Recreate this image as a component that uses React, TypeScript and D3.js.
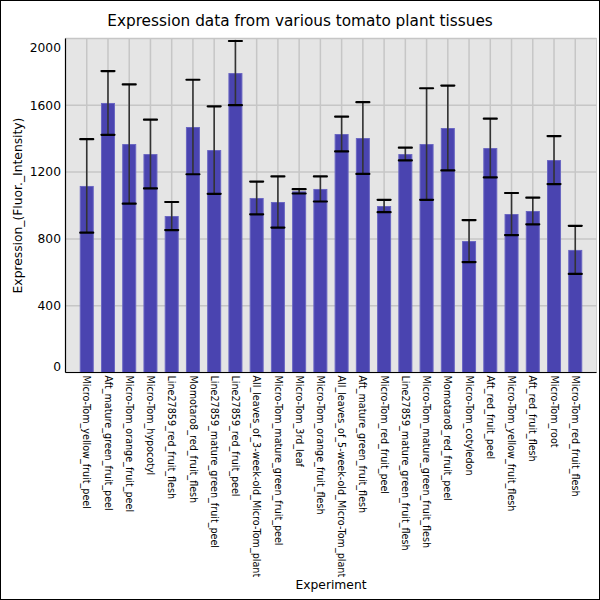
import React from "react";
import * as d3 from "d3";

const categories = [
  "Micro-Tom_yellow_fruit_peel",
  "Aft_mature_green_fruit_peel",
  "Micro-Tom_orange_fruit_peel",
  "Micro-Tom_hypocotyl",
  "Line27859_red_fruit_flesh",
  "Momotaro8_red_fruit_flesh",
  "Line27859_mature_green_fruit_peel",
  "Line27859_red_fruit_peel",
  "All_leaves_of_3-week-old_Micro-Tom_plant",
  "Micro-Tom_mature_green_fruit_peel",
  "Micro-Tom_3rd_leaf",
  "Micro-Tom_orange_fruit_flesh",
  "All_leaves_of_5-week-old_Micro-Tom_plant",
  "Aft_mature_green_fruit_flesh",
  "Micro-Tom_red_fruit_peel",
  "Line27859_mature_green_fruit_flesh",
  "Micro-Tom_mature_green_fruit_flesh",
  "Momotaro8_red_fruit_peel",
  "Micro-Tom_cotyledon",
  "Aft_red_fruit_peel",
  "Micro-Tom_yellow_fruit_flesh",
  "Aft_red_fruit_flesh",
  "Micro-Tom_root",
  "Micro-Tom_red_fruit_flesh",
];

const means = [
  1117, 1614, 1368, 1308, 937, 1470, 1332, 1793, 1045, 1021, 1085, 1099,
  1428, 1404, 997, 1308, 1368, 1464, 787, 1344, 949, 967, 1272, 734,
];

const errors = [
  280, 191, 357, 206, 84, 283, 262, 192, 98, 153, 13, 75,
  104, 215, 37, 38, 334, 254, 126, 176, 126, 80, 144, 144,
];

const yTicks = [0, 400, 800, 1200, 1600, 2000];

const title = "Expression data from various tomato plant tissues";
const xTitle = "Experiment";
const yTitle = "Expression_(Fluor._Intensity)";

const W = 600;
const H = 600;
const left = 65.5;
const right = 596.5;
const top = 38.5;
const bottom = 372.5;
const font = "DejaVu Sans, sans-serif";

export default function App() {
  const x = d3.scalePoint<string>().domain(categories).range([left, right]).padding(1);
  const y = d3.scaleLinear().domain([0, 2000]).range([bottom, top]);
  const barW = 14;
  const capW = 13;

  return (
    <svg
      width={W}
      height={H}
      style={{ position: "absolute", left: 0, top: 0, display: "block" }}
      fontFamily={font}
    >
      <rect x={0} y={0} width={W} height={H} fill="#fff" />
      <rect x={0.5} y={0.5} width={W - 1} height={H - 1} fill="none" stroke="#000" strokeWidth={1} />
      <text x={W / 2} y={26} textAnchor="middle" fontSize={15.3} fill="#000">
        {title}
      </text>
      <rect x={left} y={top} width={right - left} height={bottom - top} fill="#e5e5e5" stroke="#cfcfcf" strokeWidth={1} />
      {yTicks.map((t) => (
        <line key={"gy" + t} x1={left} x2={right} y1={y(t)} y2={y(t)} stroke="#c6c6c6" strokeWidth={1.5} />
      ))}
      {categories.map((c) => (
        <line key={"gx" + c} x1={x(c)!} x2={x(c)!} y1={top} y2={bottom} stroke="#c6c6c6" strokeWidth={1.5} />
      ))}
      {categories.map((c, i) => {
        const cx = x(c)!;
        return (
          <rect
            key={"b" + c}
            x={cx - barW / 2 + 0.5}
            y={y(means[i]) + 0.5}
            width={barW - 1}
            height={bottom - y(means[i]) - 0.5}
            fill="#4a44b0"
            stroke="#6a66c2"
            strokeWidth={1}
          />
        );
      })}
      {categories.map((c, i) => {
        const cx = x(c)!;
        const hi = y(Math.min(2000, means[i] + errors[i]));
        const lo = y(means[i] - errors[i]);
        return (
          <g key={"e" + c}>
            <line x1={cx} x2={cx} y1={hi} y2={lo} stroke="#333" strokeWidth={1.6} />
            <line x1={cx - capW / 2} x2={cx + capW / 2} y1={hi} y2={hi} stroke="#000" strokeWidth={2.2} strokeLinecap="round" />
            <line x1={cx - capW / 2} x2={cx + capW / 2} y1={lo} y2={lo} stroke="#000" strokeWidth={2.2} strokeLinecap="round" />
          </g>
        );
      })}
      <line x1={left} x2={left} y1={top} y2={bottom} stroke="#000" strokeWidth={1.2} />
      <line x1={left} x2={right} y1={bottom} y2={bottom} stroke="#000" strokeWidth={1.2} />
      {yTicks.map((t, i) => {
        let yy = y(t);
        if (i === 0) yy -= 6;
        if (i === yTicks.length - 1) yy += 9;
        return (
          <text key={"yt" + t} x={61} y={yy} dy="0.35em" textAnchor="end" fontSize={12.3} fill="#000">
            {t}
          </text>
        );
      })}
      {categories.map((c) => (
        <text
          key={"xt" + c}
          transform={`translate(${x(c)},${bottom + 3}) rotate(90)`}
          dy="0.35em"
          textAnchor="start"
          fontSize={9.6}
          fill="#000"
        >
          {c}
        </text>
      ))}
      <text x={(left + right) / 2} y={589} textAnchor="middle" fontSize={12.3} fill="#000">
        {xTitle}
      </text>
      <text
        transform={`translate(22,${(top + bottom) / 2}) rotate(-90)`}
        textAnchor="middle"
        fontSize={12.3}
        fill="#000"
      >
        {yTitle}
      </text>
    </svg>
  );
}
